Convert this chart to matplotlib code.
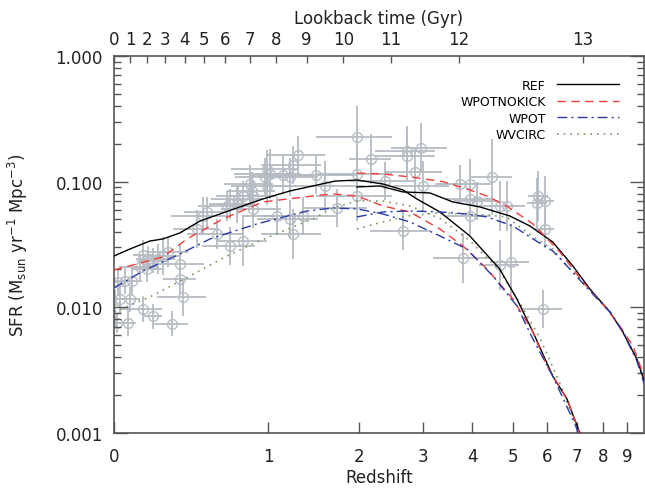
import numpy as np
import matplotlib.pyplot as plt
from matplotlib.ticker import FixedLocator, NullLocator, FixedFormatter

# --- Model curves, low-z box (z = 0 .. ~7) --------------------------------
ref_a_z = [0, 0.074, 0.175, 0.246, 0.345, 0.471, 0.609, 0.76, 0.951, 1.203, 1.443,
           1.697, 1.977, 2.345, 2.66, 2.896, 3.32, 3.94, 4.65, 5.105, 5.56, 6.17,
           6.64, 7.10, 7.2]
ref_a_sfr = [0.0256, 0.0291, 0.0337, 0.035, 0.0391, 0.0486, 0.0553, 0.0629, 0.0728,
             0.0843, 0.0924, 0.101, 0.103, 0.0958, 0.0859, 0.0728, 0.0574, 0.037,
             0.0202, 0.01165, 0.00637, 0.00284, 0.00187, 0.001, 0.00082]

nokick_a_z = [0, 0.246, 0.388, 0.631, 0.951, 1.443, 1.673, 1.977, 2.345, 2.776, 3.32,
              3.79, 4.335, 4.997, 5.56, 5.986, 6.64, 7.03, 7.2]
nokick_a_sfr = [0.0198, 0.0252, 0.035, 0.0505, 0.0689, 0.0769, 0.0798, 0.0769, 0.064,
                0.0574, 0.042, 0.0308, 0.0202, 0.01165, 0.00637, 0.00341, 0.00187,
                0.00108, 0.00083]

wpot_a_z = [0, 0.139, 0.345, 0.539, 0.9, 1.378, 1.673, 1.977, 2.345, 2.776, 3.32,
            3.877, 4.48, 5.105, 5.56, 6.17, 6.95, 7.14]
wpot_a_sfr = [0.01426, 0.01946, 0.02657, 0.035, 0.0461, 0.0584, 0.0617, 0.0607, 0.0553,
              0.0478, 0.037, 0.0291, 0.01776, 0.01025, 0.0056, 0.00284, 0.00114, 0.00083]

wvcirc_a_z = [0, 0.175, 0.406, 0.661, 0.9, 1.234, 1.443, 1.673, 1.977, 2.345, 2.776,
              3.32, 3.94, 4.65, 5.19, 5.77, 6.4, 7.03, 7.2]
wvcirc_a_sfr = [0.00918, 0.0121, 0.01776, 0.0256, 0.0331, 0.0436, 0.0505, 0.0617, 0.0702,
                0.0702, 0.064, 0.0510, 0.034, 0.0195, 0.0108, 0.0057, 0.0025,
                0.00105, 0.00083]

# --- Model curves, high-z box (z = 2 .. 10) -------------------------------
ref_b_z = [1.977, 2.3, 2.66, 3.13, 3.58, 4.17, 4.915, 5.47, 6.17, 6.85, 7.47, 8.27,
           8.82, 9.46, 9.89]
ref_b_sfr = [0.0907, 0.0924, 0.0828, 0.0813, 0.0689, 0.0629, 0.0533, 0.0444, 0.0331,
             0.0213, 0.014, 0.00918, 0.00637, 0.00388, 0.00237]

nokick_b_z = [1.977, 2.345, 2.776, 3.38, 3.877, 4.335, 4.83, 5.56, 6.4, 7.21, 8.14,
              8.69, 9.28, 9.89]
nokick_b_sfr = [0.117, 0.115, 0.109, 0.1, 0.0874, 0.0769, 0.064, 0.0461, 0.0276,
                0.0159, 0.0097, 0.0071, 0.00492, 0.00259]

wpot_b_z = [1.977, 2.345, 2.776, 3.32, 3.877, 4.335, 4.997, 5.56, 6.17, 6.74, 7.47,
            8.27, 8.82, 9.46, 9.89]
wpot_b_sfr = [0.0524, 0.0574, 0.0584, 0.0574, 0.0553, 0.0524, 0.0444, 0.035, 0.0281,
              0.0202, 0.0135, 0.00918, 0.00637, 0.00374, 0.00224]

wvcirc_b_z = [1.977, 2.345, 2.725, 3.32, 4.335, 4.83, 5.56, 6.17, 6.74, 7.47, 8.27,
              8.82, 9.46, 9.89]
wvcirc_b_sfr = [0.042, 0.0478, 0.0533, 0.0563, 0.0543, 0.0524, 0.0363, 0.0291, 0.0202,
                0.0137, 0.0093, 0.0065, 0.0039, 0.0023]

# --- Observational compilation (z, SFR, half-width in z, half-height in dex) ---
obs_z = [0.139, 0.165, 0.191, 0.218, 0.246, 0.274, 0.124, 0.16, 0.345, 0.345, 0.363,
         0.018, 0.051, 0.084, 0.027, 0.074, 0.139, 0.191, 0.297, 0.0136, 0.065, 0.0045,
         0.451, 0.491, 0.518, 0.588, 0.684, 0.784, 0.684, 0.737, 0.866, 1.078, 1.203,
         1.234, 1.284, 1.234, 0.988, 1.015, 0.97, 1.135, 1.203, 1.476, 0.841, 0.858,
         0.988, 0.866, 0.784, 0.745, 0.661, 1.977, 2.725, 2.725, 2.97, 2.17, 2.86, 3.0,
         1.578, 1.977, 1.977, 2.375, 1.721, 1.336, 2.66, 3.73, 3.94, 4.46, 3.94, 4.10,
         4.65, 4.83, 3.94, 5.71, 5.68, 5.92, 5.92, 3.79, 4.65, 4.94, 5.86]
obs_sfr = [0.0261, 0.0243, 0.0234, 0.0243, 0.0256, 0.0276, 0.0209, 0.0202, 0.0221,
           0.0168, 0.0121, 0.0159, 0.0162, 0.0162, 0.0116, 0.0116, 0.0097, 0.0085,
           0.0074, 0.0075, 0.0075, 0.0097, 0.042, 0.0533, 0.0574, 0.0383, 0.0308,
           0.0337, 0.0664, 0.0664, 0.0607, 0.0533, 0.0505, 0.0383, 0.163, 0.136, 0.126,
           0.115, 0.109, 0.113, 0.109, 0.113, 0.0958, 0.0843, 0.0924, 0.0769, 0.0769,
           0.0728, 0.064, 0.2267, 0.175, 0.16, 0.185, 0.151, 0.119, 0.0924, 0.0924,
           0.115, 0.0769, 0.101, 0.0617, 0.0533, 0.0405, 0.0958, 0.0958, 0.109, 0.0728,
           0.0702, 0.064, 0.064, 0.0533, 0.0769, 0.0676, 0.0702, 0.042, 0.0247, 0.0217,
           0.0229, 0.0097]
obs_dz = [0.05, 0.06, 0.08, 0.1, 0.1, 0.12, 0.1, 0.08, 0.15, 0.1, 0.15, 0.02, 0.05,
          0.05, 0.03, 0.05, 0.1, 0.05, 0.1, 0.015, 0.04, 0.005, 0.15, 0.2, 0.15, 0.2,
          0.2, 0.2, 0.15, 0.15, 0.25, 0.3, 0.3, 0.3, 0.3, 0.3, 0.3, 0.3, 0.25, 0.3, 0.3,
          0.5, 0.2, 0.2, 0.3, 0.2, 0.2, 0.2, 0.2, 0.5, 0.5, 0.5, 0.5, 0.3, 0.5, 0.5, 0.5,
          0.5, 0.5, 0.5, 0.4, 0.4, 0.5, 0.5, 0.5, 0.5, 0.5, 0.5, 0.5, 0.5, 0.5, 0.3, 0.3,
          0.3, 0.3, 0.6, 0.5, 0.5, 0.6]
obs_ddex = [0.12, 0.1, 0.1, 0.12, 0.15, 0.12, 0.1, 0.1, 0.15, 0.12, 0.15, 0.1, 0.1,
            0.1, 0.12, 0.1, 0.1, 0.1, 0.1, 0.08, 0.1, 0.15, 0.15, 0.15, 0.12, 0.12,
            0.15, 0.2, 0.12, 0.15, 0.15, 0.15, 0.15, 0.2, 0.15, 0.15, 0.15, 0.2, 0.15,
            0.15, 0.15, 0.15, 0.15, 0.15, 0.15, 0.12, 0.12, 0.12, 0.12, 0.25, 0.2, 0.2,
            0.2, 0.2, 0.2, 0.2, 0.2, 0.2, 0.2, 0.15, 0.15, 0.15, 0.15, 0.15, 0.2, 0.3,
            0.15, 0.15, 0.2, 0.2, 0.15, 0.2, 0.2, 0.2, 0.15, 0.2, 0.2, 0.3, 0.15]

# redshifts of the lookback-time ticks (0..13 Gyr)
lookback_labels = [str(i) for i in range(14)]
lookback_z = [0.0, 0.0744, 0.158, 0.257, 0.375, 0.50, 0.646, 0.841, 1.069, 1.375,
              1.80, 2.467, 3.705, 7.22]

z_ticks = list(range(10))

c_grey = "#b6bcc4"
c_red = "#f03c3c"
c_blue = "#2a3aa8"
c_green = "#7f9a62"
c_axis = "#555555"

plt.rcParams["font.family"] = "DejaVu Sans"

fig = plt.figure(figsize=(6.45, 4.89), dpi=100)
ax = fig.add_axes([0.1767, 0.1125, 0.8217, 0.771])

# --- Observations ---------------------------------------------------------
oz = np.array(obs_z)
osfr = np.array(obs_sfr)
dz = np.array(obs_dz)
dd = np.array(obs_ddex)
xerr = np.vstack([np.minimum(dz, oz), dz])
yerr = np.vstack([osfr - osfr / 10**dd, osfr * 10**dd - osfr])
ax.errorbar(1 + oz, osfr, xerr=xerr, yerr=yerr, fmt="o", ms=7, mfc="none",
            mec=c_grey, mew=1.0, ecolor=c_grey, elinewidth=1.3, capsize=0,
            zorder=1)

# --- Models ---------------------------------------------------------------
dash = (0, (6, 4))
dashdot = (0, (7, 3, 1.5, 3))
dots = (0, (1, 3))
ax.plot(1 + np.array(ref_a_z), ref_a_sfr, color="k", lw=1.0, label="REF", zorder=3)
ax.plot(1 + np.array(nokick_a_z), nokick_a_sfr, color=c_red, lw=1.0, ls=dash,
        label="WPOTNOKICK", zorder=3)
ax.plot(1 + np.array(wpot_a_z), wpot_a_sfr, color=c_blue, lw=1.0, ls=dashdot,
        label="WPOT", zorder=3)
ax.plot(1 + np.array(wvcirc_a_z), wvcirc_a_sfr, color=c_green, lw=1.2, ls=dots,
        label="WVCIRC", zorder=2)

ax.plot(1 + np.array(ref_b_z), ref_b_sfr, color="k", lw=1.0, zorder=3)
ax.plot(1 + np.array(nokick_b_z), nokick_b_sfr, color=c_red, lw=1.0, ls=dash, zorder=3)
ax.plot(1 + np.array(wpot_b_z), wpot_b_sfr, color=c_blue, lw=1.0, ls=dashdot, zorder=3)
ax.plot(1 + np.array(wvcirc_b_z), wvcirc_b_sfr, color=c_green, lw=1.2, ls=dots, zorder=2)

# --- Axes -----------------------------------------------------------------
ax.set_xscale("log")
ax.set_yscale("log")
ax.set_xlim(1, 10.8)
ax.set_ylim(0.001, 1.0)

ax.xaxis.set_major_locator(FixedLocator([1 + z for z in z_ticks]))
ax.xaxis.set_major_formatter(FixedFormatter([str(z) for z in z_ticks]))
ax.xaxis.set_minor_locator(NullLocator())
ax.set_yticks([0.001, 0.01, 0.1, 1.0])
ax.set_yticklabels(["0.001", "0.010", "0.100", "1.000"])

ax.tick_params(axis="x", which="major", direction="in", length=8, width=1,
               pad=10, labelsize=12, top=False, color=c_axis, labelcolor="#222222")
ax.tick_params(axis="y", which="major", direction="in", length=10, width=1,
               pad=8, labelsize=12, right=True, color=c_axis, labelcolor="#222222")
ax.tick_params(axis="y", which="minor", direction="in", length=5, width=1,
               right=True, color=c_axis)
for s in ax.spines.values():
    s.set_color(c_axis)
    s.set_linewidth(1.2)

ax.set_xlabel("Redshift", fontsize=12, labelpad=2, color="#222222")
ax.set_ylabel(r"SFR (M$_{\rm sun}$ yr$^{-1}$ Mpc$^{-3}$)", fontsize=12,
              labelpad=18, color="#222222")

top = ax.twiny()
top.set_xscale("log")
top.set_xlim(ax.get_xlim())
top.xaxis.set_major_locator(FixedLocator([1 + z for z in lookback_z]))
top.xaxis.set_major_formatter(FixedFormatter(lookback_labels))
top.xaxis.set_minor_locator(NullLocator())
top.tick_params(axis="x", direction="in", length=5, width=1, pad=6, labelsize=12,
                color=c_axis, labelcolor="#222222")
top.set_xlabel("Lookback time (Gyr)", fontsize=12, labelpad=5, color="#222222")
for s in top.spines.values():
    s.set_visible(False)

leg = ax.legend(loc="upper right", bbox_to_anchor=(0.975, 0.97), frameon=False,
                markerfirst=False, fontsize=9, handlelength=5.0, handletextpad=0.9,
                labelspacing=0.28)

fig.savefig("out.png", dpi=100)
